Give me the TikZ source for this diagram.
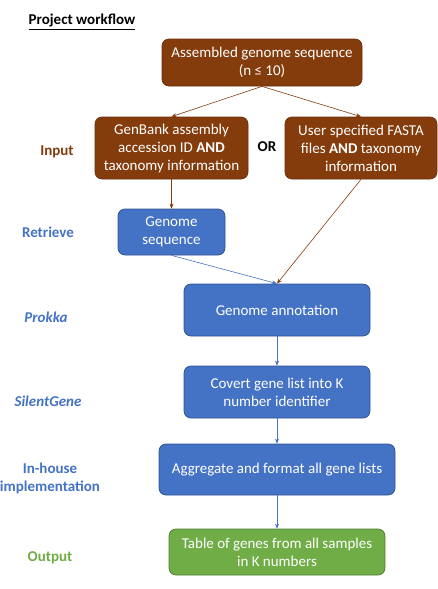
\documentclass[tikz,border=0pt]{standalone}
\usepackage{fontspec}
\setmainfont{Carlito}
\usetikzlibrary{arrows.meta}
\definecolor{rust}{HTML}{843C0C}
\definecolor{rustline}{HTML}{6B300A}
\definecolor{office}{HTML}{4472C4}
\definecolor{officeline}{HTML}{2F528F}
\definecolor{leaf}{HTML}{70AD47}
\definecolor{leafline}{HTML}{507E32}
\begin{document}
\begin{tikzpicture}[x=1pt,y=-1pt,line width=0.75pt,
font=\fontsize{15}{18}\selectfont,
stepblock/.style={draw,rectangle,rounded corners=7pt,align=center,text=white,inner sep=0pt},
rustblock/.style={stepblock,fill=rust,draw=rustline},
officeblock/.style={stepblock,fill=office,draw=officeline},
leafblock/.style={stepblock,fill=leaf,draw=leafline},
phase/.style={font=\fontsize{15}{18}\selectfont\bfseries,align=center},
flow/.style={-{Stealth[length=5pt,width=4pt]},line width=0.6pt}]
\useasboundingbox (0,0) rectangle (438,589);
\draw (25,22) node[anchor=west,font=\fontsize{15}{18}\selectfont\bfseries] (title) {\underline{Project workflow}};
% input
\draw (262,62.5) node[rustblock,minimum width=200pt,minimum height=47pt] (asm) {Assembled genome sequence\\(n \char"2264{} 10)};
\draw (171.5,148) node[rustblock,minimum width=153pt,minimum height=62pt] (gb) {GenBank assembly\\accession ID \textbf{AND}\\taxonomy information};
\draw (361,148) node[rustblock,minimum width=152pt,minimum height=62pt] (fa) {User specified FASTA\\files \textbf{AND} taxonomy\\information};
\draw (267,147) node[phase] (or) {OR};
\draw (57,152) node[phase,text=rust] (lin) {Input};
% pipeline
\draw (171.5,232) node[officeblock,minimum width=107pt,minimum height=46pt] (seq) {Genome\\sequence};
\draw (277,310) node[officeblock,minimum width=186pt,minimum height=52pt] (ann) {Genome annotation};
\draw (277,392) node[officeblock,minimum width=186pt,minimum height=52pt] (kno) {Covert gene list into K\\number identifier};
\draw (277,469.5) node[officeblock,minimum width=236pt,minimum height=51pt] (agg) {Aggregate and format all gene lists};
\draw (277,552) node[leafblock,minimum width=216pt,minimum height=46pt] (out) {Table of genes from all samples\\in K numbers};
\draw (48,232) node[phase,text=office] (lret) {Retrieve};
\draw (46,317) node[phase,text=office] (lpro) {\textit{Prokka}};
\draw (48,401) node[phase,text=office] (lsil) {\textit{SilentGene}};
\draw (50,478) node[phase,text=office] (limp) {In-house\\implementation};
\draw (50,558) node[phase,text=leaf] (lout) {Output};
% connectors
\draw[flow,rust] (asm.south) -- (gb.north);
\draw[flow,rust] (asm.south) -- (fa.north);
\draw[flow,rust] (gb.south) -- (seq.north);
\draw[flow,rust] (fa.south) -- (ann.north);
\draw[flow,office] (seq.south) -- (ann.north);
\draw[flow,office] (ann.south) -- (kno.north);
\draw[flow,office] (kno.south) -- (agg.north);
\draw[flow,office] (agg.south) -- (out.north);
\end{tikzpicture}
\end{document}
